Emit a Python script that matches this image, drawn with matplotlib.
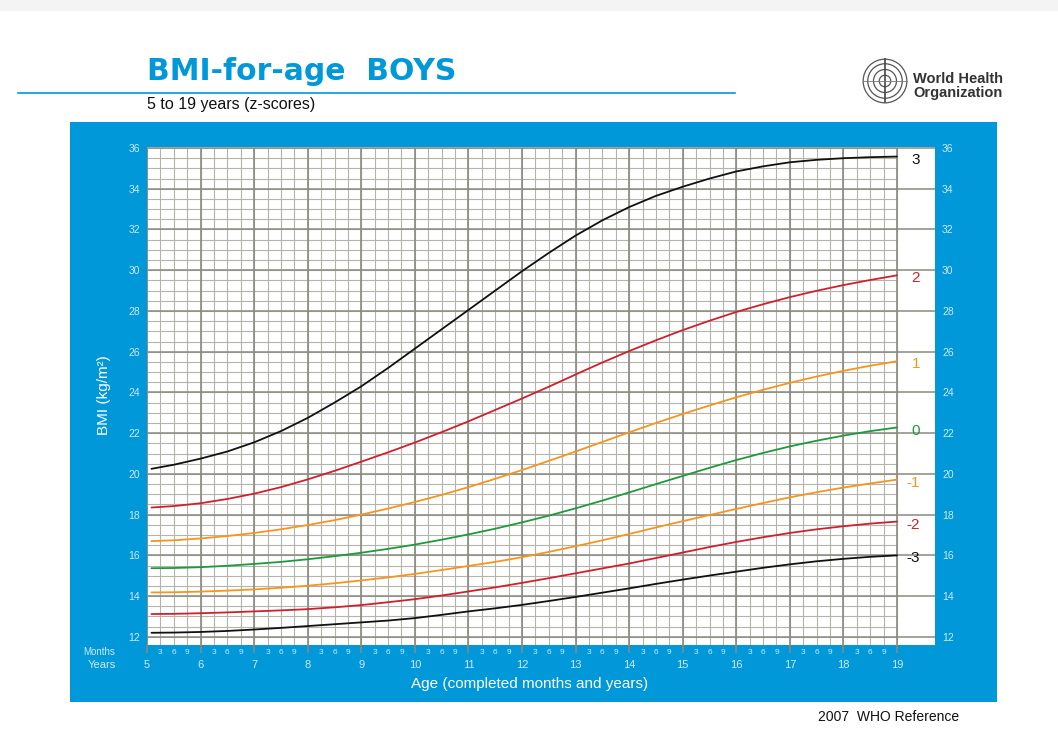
import numpy as np
from matplotlib import pyplot as plt
from matplotlib.patches import Rectangle, Circle

# BMI-for-age boys, 5-19 years: z-score curves every 6 months
age_months = [61] + list(range(66, 229, 6))

sd3 = [20.25, 20.45, 20.75, 21.10, 21.55, 22.10, 22.75, 23.50, 24.30, 25.20, 26.15, 27.10, 28.05,
       29.00, 29.95, 30.85, 31.70, 32.45, 33.10, 33.65, 34.10, 34.50, 34.85, 35.10, 35.30, 35.42,
       35.50, 35.55, 35.58]
sd2 = [18.35, 18.42, 18.56, 18.77, 19.03, 19.35, 19.73, 20.15, 20.60, 21.06, 21.54, 22.05, 22.58,
       23.14, 23.70, 24.28, 24.88, 25.47, 26.03, 26.56, 27.06, 27.52, 27.95, 28.33, 28.68, 28.99,
       29.27, 29.52, 29.75]
sd1 = [16.70, 16.74, 16.83, 16.95, 17.10, 17.28, 17.49, 17.73, 18.00, 18.30, 18.62, 18.97, 19.35,
       19.76, 20.19, 20.64, 21.10, 21.57, 22.04, 22.50, 22.94, 23.36, 23.76, 24.13, 24.47, 24.78,
       25.06, 25.31, 25.53]
sd0 = [15.37, 15.38, 15.42, 15.49, 15.58, 15.68, 15.81, 15.96, 16.13, 16.32, 16.53, 16.77, 17.03,
       17.31, 17.62, 17.95, 18.31, 18.69, 19.09, 19.50, 19.90, 20.30, 20.68, 21.03, 21.35, 21.63,
       21.88, 22.10, 22.28]
sd1n = [14.18, 14.19, 14.22, 14.27, 14.33, 14.41, 14.51, 14.63, 14.77, 14.92, 15.09, 15.28, 15.48,
        15.68, 15.91, 16.17, 16.45, 16.74, 17.05, 17.37, 17.68, 17.98, 18.28, 18.57, 18.85, 19.10,
        19.33, 19.53, 19.72]
sd2n = [13.12, 13.13, 13.16, 13.20, 13.25, 13.30, 13.36, 13.45, 13.56, 13.70, 13.85, 14.03, 14.23,
        14.43, 14.65, 14.88, 15.12, 15.36, 15.60, 15.87, 16.14, 16.41, 16.66, 16.89, 17.10, 17.28,
        17.43, 17.56, 17.66]
sd3n = [12.20, 12.21, 12.24, 12.29, 12.36, 12.44, 12.53, 12.62, 12.71, 12.80, 12.92, 13.08, 13.25,
        13.40, 13.57, 13.76, 13.96, 14.17, 14.38, 14.60, 14.81, 15.01, 15.20, 15.39, 15.56, 15.71,
        15.83, 15.93, 16.00]

curves = [sd3, sd2, sd1, sd0, sd1n, sd2n, sd3n]
curve_labels = ['3', '2', '1', '0', '-1', '-2', '-3']
black, red, orange, green = '#111111', '#d0202e', '#f7941d', '#1e9a3c'
curve_colors = [black, red, orange, green, orange, red, black]

years = list(range(5, 20))
bmi_ticks = list(range(12, 37, 2))

blue = '#0098d8'
light = '#cde9f8'

age = np.array(age_months) / 12

fig = plt.figure(figsize=(10.58, 7.4), dpi=100)
plt.rcParams['font.family'] = ['Liberation Sans', 'DejaVu Sans']

W, H = 1058, 740


def fx(px):
    return px / W


def fy(py):
    return 1 - py / H


# faint strip at top of page
fig.patches.append(Rectangle((0, fy(10)), 1, 10 / H, transform=fig.transFigure,
                             color='#f4f4f4', zorder=-5))
# blue panel as a background axes
bg = fig.add_axes([fx(70), fy(702), fx(927), 580 / H], zorder=-2)
bg.set_facecolor(blue)
bg.set_xticks([])
bg.set_yticks([])
for s in bg.spines.values():
    s.set_visible(False)

# title block
fig.text(fx(147), fy(80), 'BMI-for-age  BOYS', color=blue, fontsize=21.5, fontweight='bold',
         family='DejaVu Sans', va='baseline')
fig.add_artist(plt.Line2D([fx(18), fx(735)], [fy(93), fy(93)], color=blue, lw=1.2,
                          transform=fig.transFigure))
fig.text(fx(147), fy(109), '5 to 19 years (z-scores)', color='#111111', fontsize=11.5,
         va='baseline')
fig.text(fx(818), fy(721), '2007  WHO Reference', color='#111111', fontsize=10, va='baseline')

# WHO emblem (simplified) and name
em = fig.add_axes([fx(862), fy(104), fx(46), 46 / H])
em.set_xlim(-1, 1)
em.set_ylim(-1, 1)
em.set_aspect('equal')
em.axis('off')
for r in [0.95, 0.75, 0.5, 0.25]:
    em.add_patch(Circle((0, 0), r, fill=False, color='#555555', lw=0.9))
em.plot([0, 0], [-0.9, 0.95], color='#444444', lw=1.2)
em.plot([-0.95, 0.95], [0, 0], color='#777777', lw=0.6)
fig.text(fx(913), fy(83), 'World Health', color='#333333', fontsize=10.5, fontweight='bold',
         va='baseline')
fig.text(fx(913), fy(97), 'Organization', color='#333333', fontsize=10.5, fontweight='bold',
         va='baseline')

# main chart
ax = fig.add_axes([fx(147), fy(645), fx(788), 498 / H])
ax.set_facecolor('white')
px_year = 750 / 14
x_end = 19 + 38 / px_year
ax.set_xlim(5, x_end)
ax.set_ylim(11.6, 36.05)
for s in ax.spines.values():
    s.set_visible(False)

minor_c, major_c = '#b4b4aa', '#8a8a80'
ax.hlines(np.arange(12, 36.01, 0.5), 5, 19, color=minor_c, lw=0.8, zorder=1)
ax.vlines(np.arange(5, 19.01, 0.25), 11.6, 36, color=minor_c, lw=0.8, zorder=1)
ax.hlines(bmi_ticks, 5, x_end, color=major_c, lw=1.1, zorder=2)
ax.vlines(years, 11.6, 36, color=major_c, lw=1.2, zorder=2)

for vals, lab, col in zip(curves, curve_labels, curve_colors):
    ax.plot(age, vals, color=col, lw=1.3, zorder=3, solid_capstyle='round')
    ax.text(19 + 23 / px_year, vals[-1] - 0.15, lab, color=col, fontsize=11, ha='right',
            va='center', zorder=4)

# ticks: years major, months minor
ax.set_xticks(years)
ax.set_xticklabels([str(y) for y in years])
months_pos = [y + m / 12 for y in years[:-1] for m in (3, 6, 9)]
ax.set_xticks(months_pos, minor=True)
ax.set_xticklabels(['3', '6', '9'] * (len(years) - 1), minor=True)
ax.tick_params(axis='x', which='major', length=6, width=1.2, color=major_c, pad=5,
               labelsize=8, labelcolor=light)
ax.tick_params(axis='x', which='minor', length=0, pad=3, labelsize=6, labelcolor=light)

ax.set_yticks(bmi_ticks)
ax.set_yticklabels([str(b) for b in bmi_ticks])
ax.tick_params(axis='y', length=0, pad=5, labelsize=7.5, labelcolor=light,
               labelleft=True, labelright=True)

ax.text(-0.04, -0.014, 'Months', transform=ax.transAxes, color=light, fontsize=7,
        ha='right', va='center')
ax.text(-0.04, -0.040, 'Years', transform=ax.transAxes, color=light, fontsize=8,
        ha='right', va='center')

fig.text(fx(530), fy(684), 'Age (completed months and years)', color='white', fontsize=11,
         ha='center', va='center')
fig.text(fx(104), fy(395), 'BMI (kg/m²)', color='white', fontsize=11, rotation=90,
         ha='center', va='center')

fig.savefig('out.png', dpi=100)
